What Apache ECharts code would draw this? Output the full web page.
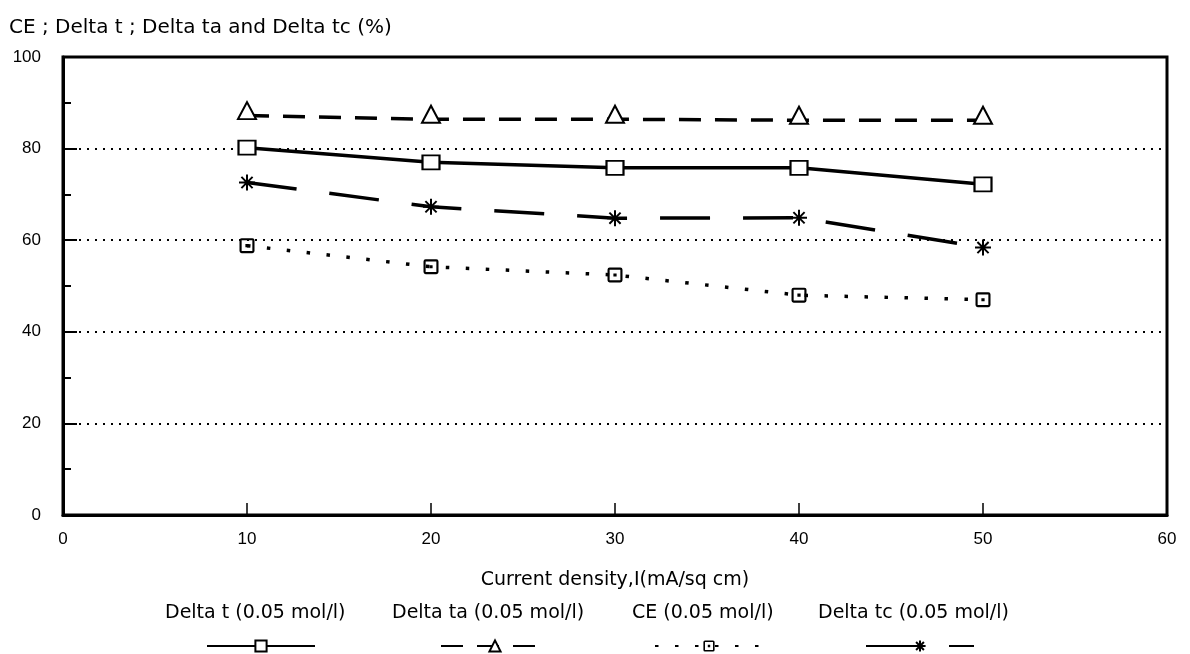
<!DOCTYPE html>
<html><head><meta charset="utf-8">
<script src="https://cdn.jsdelivr.net/npm/echarts@6/dist/echarts.min.js"></script>
<style>html,body{margin:0;padding:0;background:#fff}#c{width:1190px;height:654px}</style>
</head><body><div id="c"></div>
<script>
const xValues = [10, 20, 30, 40, 50];
const deltaT  = [80.2, 77.0, 75.8, 75.8, 72.2];
const deltaTa = [87.2, 86.4, 86.4, 86.2, 86.2];
const ce      = [58.8, 54.2, 52.4, 48.0, 47.0];
const deltaTc = [72.6, 67.3, 64.8, 64.9, 58.4];
const seriesNames = ['Delta t (0.05 mol/l)', 'Delta ta (0.05 mol/l)', 'CE (0.05 mol/l)', 'Delta tc (0.05 mol/l)'];
const yTitle = 'CE ; Delta t ; Delta ta and Delta tc (%)';
const xTitle = 'Current density,I(mA/sq cm)';

const FONT = 'DejaVu Sans';
const NUMFONT = 'Liberation Sans';
const pair = arr => xValues.map((x, i) => [x, arr[i]]);

const starPath = 'path://M0,5 L10,5 M5,0 L5,10 M1.5,1.5 L8.5,8.5 M8.5,1.5 L1.5,8.5';
const cePath = 'path://M2,0 H12 Q14,0 14,2 V12 Q14,14 12,14 H2 Q0,14 0,12 V2 Q0,0 2,0 Z M2,2 V12 H12 V2 Z M5.5,5.5 H8.5 V8.5 H5.5 Z';

const chart = echarts.init(document.getElementById('c'), null, {renderer: 'canvas'});

const textLegendLefts = [159, 386, 626, 812];
const iconLegendLefts = [201, 435, 649, 860];

const legends = [];
seriesNames.forEach((n, i) => {
  legends.push({
    data: [n], left: textLegendLefts[i], top: 599, itemWidth: 0, itemHeight: 0, itemGap: 0,
    selectedMode: false,
    textStyle: {fontFamily: FONT, fontSize: 19, color: '#000', padding: [0, 0, 0, -5]}
  });
  legends.push({
    data: [n], left: iconLegendLefts[i], top: 634, itemWidth: 108, itemHeight: 14,
    selectedMode: false, formatter: () => '',
    textStyle: {fontSize: 1}
  });
});

chart.setOption({
  animation: false,
  backgroundColor: '#fff',
  title: {text: yTitle, left: 4, top: 13, textStyle: {fontFamily: FONT, fontSize: 20, fontWeight: 'normal', color: '#000'}},
  grid: {left: 63, right: 23, top: 57, bottom: 139, show: true, borderColor: '#000', borderWidth: 3},
  legend: legends,
  xAxis: {
    type: 'value', min: 0, max: 60, interval: 10,
    name: xTitle, nameLocation: 'middle', nameGap: 56,
    nameTextStyle: {fontFamily: FONT, fontSize: 19, color: '#000'},
    axisLine: {show: true, lineStyle: {color: '#000', width: 3}},
    axisTick: {show: true, inside: true, length: 12, lineStyle: {color: '#000', width: 1.5}},
    axisLabel: {fontFamily: NUMFONT, fontSize: 17, color: '#000', margin: 16},
    splitLine: {show: false}
  },
  yAxis: {
    type: 'value', min: 0, max: 100, interval: 20,
    axisLine: {show: true, lineStyle: {color: '#000', width: 3}},
    axisTick: {show: true, inside: true, length: 14, lineStyle: {color: '#000', width: 2}},
    minorTick: {show: true, splitNumber: 2, length: 8, lineStyle: {color: '#000', width: 2}},
    axisLabel: {fontFamily: NUMFONT, fontSize: 17, color: '#000', margin: 22},
    splitLine: {show: true, lineStyle: {color: '#000', width: 2, type: [2, 6]}}
  },
  series: [
    {
      name: seriesNames[0], type: 'line', data: pair(deltaT),
      symbol: 'rect', symbolSize: [17, 14],
      itemStyle: {color: '#fff', borderColor: '#000', borderWidth: 2},
      lineStyle: {color: '#000', width: 3.5, type: 'solid'}
    },
    {
      name: seriesNames[1], type: 'line', data: pair(deltaTa),
      symbol: 'triangle', symbolSize: [18, 17], symbolOffset: [0, -5],
      itemStyle: {color: '#fff', borderColor: '#000', borderWidth: 2},
      lineStyle: {color: '#000', width: 3.5, type: [22, 14]}
    },
    {
      name: seriesNames[2], type: 'line', data: pair(ce),
      symbol: cePath, symbolSize: [15, 15],
      itemStyle: {color: '#000', borderWidth: 0},
      lineStyle: {color: '#000', width: 3.5, type: [3.5, 16.5]}
    },
    {
      name: seriesNames[3], type: 'line', data: pair(deltaTc),
      symbol: starPath, symbolSize: [16, 16],
      itemStyle: {color: '#000', borderColor: '#000', borderWidth: 2},
      lineStyle: {color: '#000', width: 3.5, type: [50, 33]}
    }
  ]
});
</script></body></html>
